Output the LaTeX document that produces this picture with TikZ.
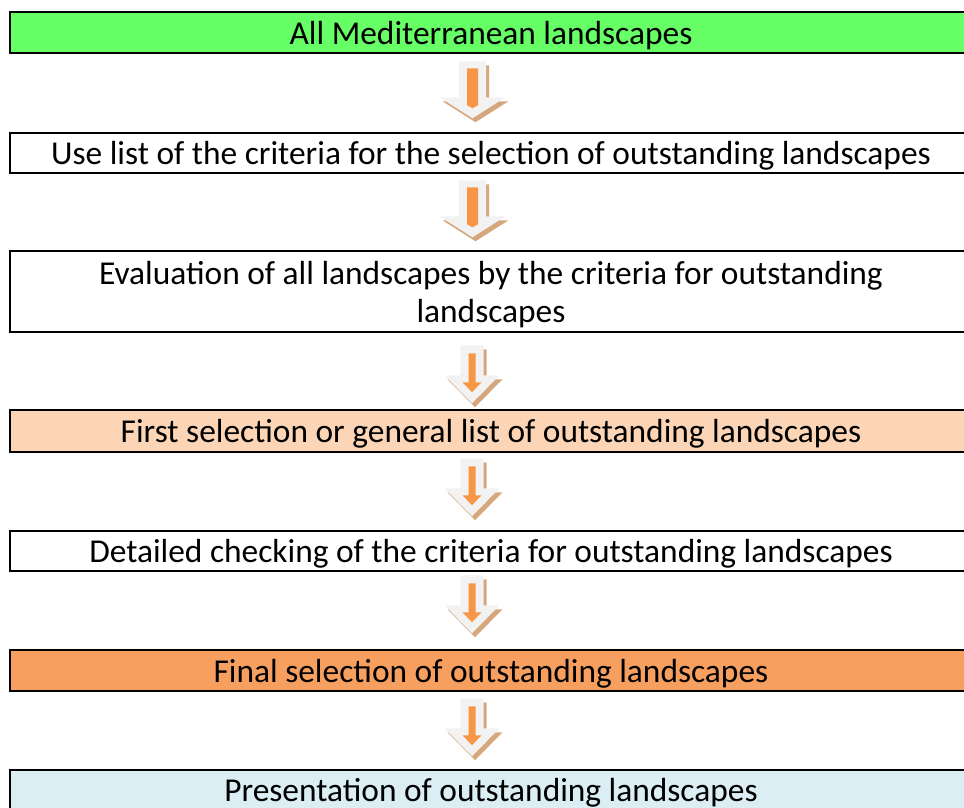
\documentclass[tikz,border=0pt]{standalone}
\usepackage{fontspec}
\setmainfont{Carlito}
\definecolor{boxgreen}{HTML}{66FF66}
\definecolor{boxpeach}{HTML}{FBD5B5}
\definecolor{boxorange}{HTML}{F79F5E}
\definecolor{boxblue}{HTML}{DAEEF3}
\definecolor{arrgray}{HTML}{F2F2F2}
\definecolor{arrorange}{HTML}{F79646}
\definecolor{arrshadow}{HTML}{D6A77C}
\begin{document}
\begin{tikzpicture}
	[
	x=1pt, y=-1pt,
	align=center,
	box/.style={rectangle, draw=black, line width=2.5pt, minimum width=962pt, inner sep=0pt, text depth=0pt, font=\fontsize{33.4}{38}\selectfont},
	bigarr/.pic={
		\fill [arrshadow] (-13.5+3,4) -- (13.5+3,4) -- (13.5+3,40) -- (33+3,40) -- (3,61) -- (-33+3,40) -- (-13.5+3,40) -- cycle;
		\fill [arrgray] (-13.5,0) -- (13.5,0) -- (13.5,36) -- (33,36) -- (0,57) -- (-33,36) -- (-13.5,36) -- cycle;
		\fill [arrorange] (-5.5,7) -- (5.5,7) -- (5.5,44) -- (0,47) -- (-5.5,44) -- cycle;
	},
	smallarr/.pic={
		\fill [arrshadow] (-11.5+3,4) -- (11.5+3,4) -- (11.5+3,34) -- (27.5+3,34) -- (3,62) -- (-27.5+3,34) -- (-11.5+3,34) -- cycle;
		\fill [arrgray] (-11.5,0) -- (11.5,0) -- (11.5,30) -- (27.5,30) -- (0,58) -- (-27.5,30) -- (-11.5,30) -- cycle;
		\fill [arrorange] (-3.5,8) -- (3.5,8) -- (3.5,37) -- (9.5,37) -- (0,47) -- (-9.5,37) -- (-3.5,37) -- cycle;
	}
	]
		\useasboundingbox (0,0) rectangle (964,807);
		\clip (0,0) rectangle (964,807);
		
		% boxes
		\node (b1) [box, fill=boxgreen, minimum height=41pt] at (491,32.5) {All Mediterranean landscapes};
		\node (b2) [box, fill=white, minimum height=40pt] at (491,153) {Use list of the criteria for the selection of outstanding landscapes};
		\node (b3) [box, fill=white, minimum height=81pt] at (491,291.5) {Evaluation of all landscapes by the criteria for outstanding\\landscapes};
		\node (b4) [box, fill=boxpeach, minimum height=42pt] at (491,431) {First selection or general list of outstanding landscapes};
		\node (b5) [box, fill=white, minimum height=40pt] at (491,551) {Detailed checking of the criteria for outstanding landscapes};
		\node (b6) [box, fill=boxorange, minimum height=41pt] at (491,670.5) {Final selection of outstanding landscapes};
		\node (b7) [box, fill=boxblue, minimum height=40pt] at (491,790) {Presentation of outstanding landscapes};
		
		% arrows
		\pic at ([shift={(-18.5,7)}]b1.south) {bigarr};
		\pic at ([shift={(-18.5,6)}]b2.south) {bigarr};
		\pic at ([shift={(-19,12)}]b3.south) {smallarr};
		\pic at ([shift={(-19,5)}]b4.south) {smallarr};
		\pic at ([shift={(-19,3)}]b5.south) {smallarr};
		\pic at ([shift={(-19,6)}]b6.south) {smallarr};
\end{tikzpicture}
\end{document}
